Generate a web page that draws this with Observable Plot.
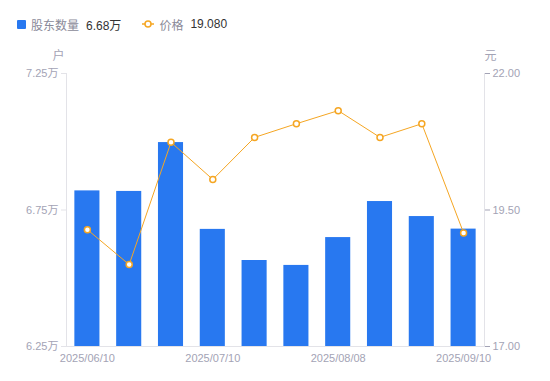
<!DOCTYPE html>
<html><head><meta charset="utf-8">
<script src="https://cdn.jsdelivr.net/npm/d3@7"></script>
<script src="https://cdn.jsdelivr.net/npm/@observablehq/plot@0.6"></script>
<style>
body{margin:0;background:#fff;font-family:"Liberation Sans","Noto Sans CJK SC",sans-serif;}
#legend{height:45px;display:flex;align-items:center;padding-left:17px;font-size:12px;color:#8a8a99;box-sizing:border-box;padding-top:3px}
.sw{display:inline-block;width:9px;height:9px;background:#2878f0;border-radius:1px;margin-right:5px}
.val{color:#333;margin-left:7px}
.item{display:flex;align-items:center;margin-right:21px}
</style></head><body>
<div id="legend"></div>
<div id="chart"></div>
<script>
const dates = ["2025/06/10","2025/06/20","2025/06/30","2025/07/10","2025/07/18","2025/07/31","2025/08/08","2025/08/20","2025/08/29","2025/09/10"];
const holders = [68200, 68180, 69970, 66790, 65650, 65470, 66490, 67810, 67260, 66800];
const prices = [19.14, 18.50, 20.74, 20.06, 20.83, 21.08, 21.32, 20.83, 21.08, 19.08];
const shownDates = ["2025/06/10","2025/07/10","2025/08/08","2025/09/10"];
const leftTicks = [62500, 67500, 72500];
const rightTicks = [17.00, 19.50, 22.00];

const hMin = 62500, hMax = 72500, pMin = 17, pMax = 22;
const toLeft = p => hMin + (p - pMin) * (hMax - hMin) / (pMax - pMin);
const toRight = v => pMin + (v - hMin) * (pMax - pMin) / (hMax - hMin);

const data = dates.map((d, i) => ({date: d, holders: holders[i], price: prices[i], py: toLeft(prices[i])}));

const blue = "#2878f0", orange = "#f5a623", grey = "#a3a3b5", axisC = "#e3e3e8";

document.getElementById("legend").innerHTML =
  `<span class="item"><span class="sw"></span>股东数量<span class="val">${(holders[holders.length-1]/10000).toFixed(2)}万</span></span>` +
  `<span class="item"><svg width="12" height="10" style="margin-right:5px"><line x1="0" y1="5" x2="12" y2="5" stroke="${orange}" stroke-width="1.5"/><circle cx="6" cy="5" r="3" fill="#fff" stroke="${orange}" stroke-width="1.5"/></svg>价格<span class="val">${prices[prices.length-1].toFixed(3)}</span></span>`;

const chart = Plot.plot({
  width: 550, height: 336,
  marginTop: 28, marginBottom: 35, marginLeft: 66, marginRight: 66,
  style: {fontFamily: "'Liberation Sans','Noto Sans CJK SC',sans-serif", fontSize: "11px", color: grey, background: "#fff"},
  x: {type: "band", domain: dates, paddingInner: 0.4, paddingOuter: 0.2, round: false},
  y: {domain: [hMin, hMax]},
  marks: [
    Plot.barY(data, {x: "date", y1: hMin, y2: "holders", fill: blue}),
    Plot.ruleY([hMin], {stroke: axisC}),
    Plot.frame({anchor: "left", stroke: axisC}),
    Plot.frame({anchor: "right", stroke: axisC}),
    Plot.line(data, {x: "date", y: "py", stroke: orange, strokeWidth: 1}),
    Plot.dot(data, {x: "date", y: "py", r: 3, fill: "#fff", stroke: orange, strokeWidth: 1.5}),
    Plot.axisX({ticks: shownDates, tickSize: 0, tickPadding: 8, label: null, color: grey}),
    Plot.axisY({anchor: "left", ticks: leftTicks, tickSize: 5, tickPadding: 3, stroke: axisC, color: grey,
      tickFormat: v => (v / 10000).toFixed(2) + "万", label: null}),
    Plot.axisY({anchor: "right", ticks: rightTicks.map(toLeft), tickSize: 5, tickPadding: 3, color: grey,
      tickFormat: v => toRight(v).toFixed(2), label: null}),
    Plot.text(["户"], {frameAnchor: "top-left", textAnchor: "middle", dx: -8, dy: -22, fill: grey, fontSize: 12}),
    Plot.text(["元"], {frameAnchor: "top-right", textAnchor: "middle", dx: 6, dy: -22, fill: grey, fontSize: 12})
  ]
});
document.getElementById("chart").appendChild(chart);
</script>
</body></html>
